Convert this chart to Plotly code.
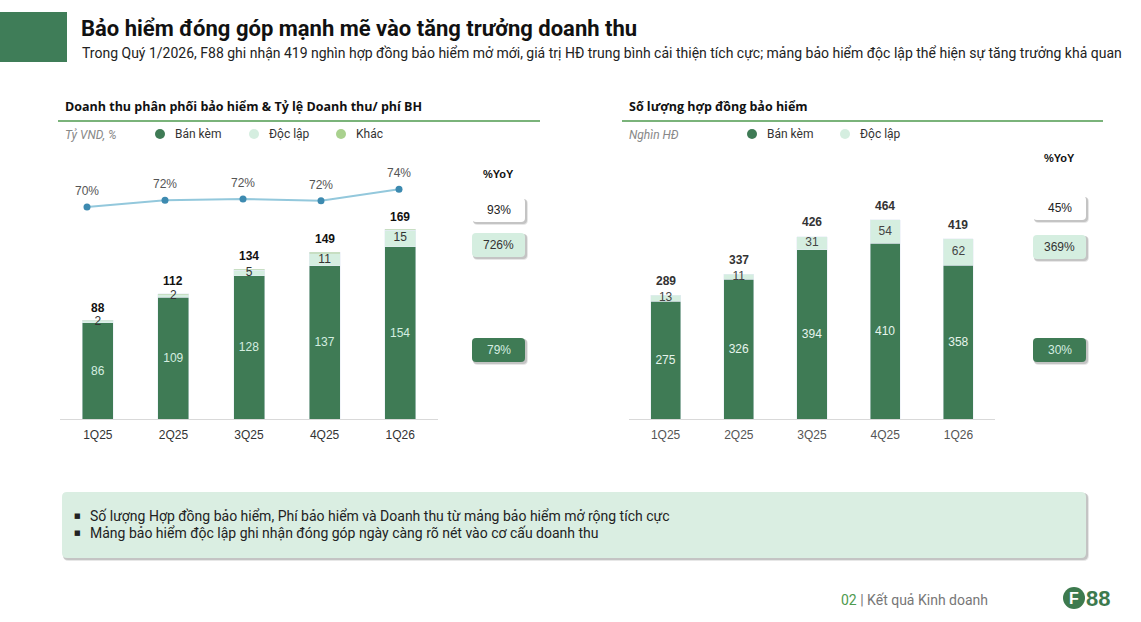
import plotly.graph_objects as go

W, H = 1141, 622
def px(x): return x / W
def py(y): return 1 - y / H

# ---------------- data ----------------
quarters = ["1Q25", "2Q25", "3Q25", "4Q25", "1Q26"]
rev_bundled = [86, 109, 128, 137, 154]
rev_standalone = [2, 2, 5, 11, 15]
rev_other = [0.4, 1, 1, 1, 0.6]
rev_total = [88, 112, 134, 149, 169]
rev_ratio = [70.2, 71.8, 72.1, 71.7, 74.4]
rev_ratio_labels = ["70%", "72%", "72%", "72%", "74%"]
rev_yoy = ["93%", "726%", "79%"]

cnt_bundled = [275, 326, 394, 410, 358]
cnt_standalone = [13, 11, 31, 54, 62]
cnt_total = [289, 337, 426, 464, 419]
cnt_yoy = ["45%", "369%", "30%"]

DARK = "#3F7B55"
LIGHT = "#D5EEE0"
OTHER = "#A9D18E"
LINE = "#93C8DC"
MARK = "#3D8AB0"
FONT = "Roboto"
HEAD = "Open Sans"
NUM = "Liberation Sans"

fig = go.Figure()

# ---------------- left chart ----------------
fig.add_trace(go.Bar(x=quarters, y=rev_bundled, marker_color=DARK, xaxis="x", yaxis="y",
                     text=[str(v) for v in rev_bundled], textposition="inside",
                     insidetextanchor="middle", textangle=0,
                     textfont=dict(color="#D5EEE0", size=12, family=NUM)))
fig.add_trace(go.Bar(x=quarters, y=rev_standalone, marker_color=LIGHT, xaxis="x", yaxis="y"))
fig.add_trace(go.Bar(x=quarters, y=rev_other, marker_color=OTHER, xaxis="x", yaxis="y"))
mid_left = [b + s / 2 for b, s in zip(rev_bundled, rev_standalone)]
fig.add_trace(go.Scatter(x=quarters, y=mid_left, mode="text", text=[str(v) for v in rev_standalone],
                         textfont=dict(color="#333333", size=12, family=NUM),
                         xaxis="x", yaxis="y", cliponaxis=False))
# ratio line
fig.add_trace(go.Scatter(x=quarters, y=rev_ratio, mode="lines+markers", xaxis="x3", yaxis="y2",
                         line=dict(color=LINE, width=2), marker=dict(color=MARK, size=7)))

# ---------------- right chart ----------------
fig.add_trace(go.Bar(x=quarters, y=cnt_bundled, marker_color=DARK, xaxis="x2", yaxis="y3",
                     text=[str(v) for v in cnt_bundled], textposition="inside",
                     insidetextanchor="middle", textangle=0,
                     textfont=dict(color="#E6F4EC", size=12, family=NUM)))
fig.add_trace(go.Bar(x=quarters, y=cnt_standalone, marker_color=LIGHT, xaxis="x2", yaxis="y3"))
mid_right = [b + s / 2 for b, s in zip(cnt_bundled, cnt_standalone)]
fig.add_trace(go.Scatter(x=quarters, y=mid_right, mode="text", text=[str(v) for v in cnt_standalone],
                         textfont=dict(color="#444444", size=12, family=NUM),
                         xaxis="x2", yaxis="y3", cliponaxis=False))

annotations = []
shapes = []

# totals
for q, t in zip(quarters, rev_total):
    annotations.append(dict(x=q, y=t, xref="x", yref="y", text=f"<b>{t}</b>", showarrow=False,
                            yanchor="bottom", yshift=4, font=dict(size=12, color="#111", family=NUM)))
for q, t in zip(quarters, cnt_total):
    annotations.append(dict(x=q, y=t, xref="x2", yref="y3", text=f"<b>{t}</b>", showarrow=False,
                            yanchor="bottom", yshift=5, font=dict(size=12, color="#333", family=NUM)))
for q, v, lab in zip(quarters, rev_ratio, rev_ratio_labels):
    annotations.append(dict(x=q, y=v, xref="x3", yref="y2", text=lab, showarrow=False,
                            yanchor="bottom", yshift=7, font=dict(size=12, color="#555", family=NUM)))

def txt(x, y, s, size=12, color="#333", xanchor="left", family=FONT, **kw):
    annotations.append(dict(x=px(x), y=py(y), xref="paper", yref="paper", text=s, showarrow=False,
                            xanchor=xanchor, yanchor="middle", font=dict(size=size, color=color, family=family), **kw))

def rrect(x0, y0, x1, y1, r, fill, opacity=1.0):
    rx, ry = r / W, r / H
    X0, X1 = px(x0), px(x1)
    Y0, Y1 = py(y1), py(y0)
    path = (f"M {X0+rx},{Y0} L {X1-rx},{Y0} Q {X1},{Y0} {X1},{Y0+ry} "
            f"L {X1},{Y1-ry} Q {X1},{Y1} {X1-rx},{Y1} L {X0+rx},{Y1} "
            f"Q {X0},{Y1} {X0},{Y1-ry} L {X0},{Y0+ry} Q {X0},{Y0} {X0+rx},{Y0} Z")
    shapes.append(dict(type="path", path=path, xref="paper", yref="paper", fillcolor=fill,
                       line=dict(width=0), opacity=opacity, layer="below"))

def shadowed(x0, y0, x1, y1, r, fill):
    rrect(x0 + 1, y0 + 1, x1 + 3, y1 + 3, r + 1, "#BBBBBB", opacity=0.35)
    rrect(x0 + 1, y0 + 1, x1 + 2, y1 + 2, r, "#999999", opacity=0.45)
    rrect(x0, y0, x1, y1, r, fill)

# ---------------- header ----------------
shapes.append(dict(type="rect", xref="paper", yref="paper", x0=px(0), x1=px(67), y0=py(62), y1=py(12),
                   fillcolor="#3F7D58", line=dict(width=0)))
txt(79, 29, "<b>Bảo hiểm đóng góp mạnh mẽ vào tăng trưởng doanh thu</b>", size=22, color="#111")
txt(80, 53, "Trong Quý 1/2026, F88 ghi nhận 419 nghìn hợp đồng bảo hiểm mở mới, giá trị HĐ trung bình cải thiện tích cực; mảng bảo hiểm độc lập thể hiện sự tăng trưởng khả quan",
    size=14, color="#222")

# ---------------- chart headers & legends ----------------
txt(63, 107, "<b>Doanh thu phân phối bảo hiểm & Tỷ lệ Doanh thu/ phí BH</b>", size=12.5, color="#111", family=HEAD)
shapes.append(dict(type="line", xref="paper", yref="paper", x0=px(58), x1=px(540), y0=py(121), y1=py(121),
                   line=dict(color="#4E9A4E", width=1.5)))
txt(63, 135, "<i>Tỷ VND, %</i>", size=12, color="#888")
for cx, col, lab in [(160, DARK, "Bán kèm"), (254, LIGHT, "Độc lập"), (341, OTHER, "Khác")]:
    shapes.append(dict(type="circle", xref="paper", yref="paper", x0=px(cx - 5), x1=px(cx + 5),
                       y0=py(139), y1=py(129), fillcolor=col, line=dict(width=0)))
    txt(cx + 13, 134, lab, size=12, color="#333")

txt(627, 107, "<b>Số lượng hợp đồng bảo hiểm</b>", size=12.5, color="#111", family=HEAD)
shapes.append(dict(type="line", xref="paper", yref="paper", x0=px(622), x1=px(1103), y0=py(121), y1=py(121),
                   line=dict(color="#4E9A4E", width=1.5)))
txt(627, 135, "<i>Nghìn HĐ</i>", size=12, color="#888")
for cx, col, lab in [(752, DARK, "Bán kèm"), (845, LIGHT, "Độc lập")]:
    shapes.append(dict(type="circle", xref="paper", yref="paper", x0=px(cx - 5), x1=px(cx + 5),
                       y0=py(139), y1=py(129), fillcolor=col, line=dict(width=0)))
    txt(cx + 13, 134, lab, size=12, color="#333")

# ---------------- YoY badges ----------------
def badges(x0, x1, head_y, ys, labels):
    cx = (x0 + x1) / 2
    txt(cx, head_y, "<b>%YoY</b>", size=11, color="#111", xanchor="center", family=NUM)
    styles = [("#FFFFFF", "#222"), (LIGHT, "#333"), (DARK, "#D5EEE0")]
    for (y0, y1), lab, (fill, tc) in zip(ys, labels, styles):
        shadowed(x0, y0, x1, y1, 4, fill)
        txt(cx, (y0 + y1) / 2, lab, size=12, color=tc, xanchor="center", family=NUM)

badges(472, 525, 174, [(198, 222), (233, 257), (338, 362)], rev_yoy)
badges(1033, 1086, 158, [(196, 220), (235, 259), (338, 362)], cnt_yoy)

# ---------------- bottom box ----------------
shadowed(62, 492, 1086, 558, 5, "#DAEEE2")
txt(72, 516, "■", size=7, color="#222", family="DejaVu Sans")
txt(88, 516, "Số lượng Hợp đồng bảo hiểm, Phí bảo hiểm và Doanh thu từ mảng bảo hiểm mở rộng tích cực", size=14, color="#222")
txt(72, 533, "■", size=7, color="#222", family="DejaVu Sans")
txt(88, 533, "Mảng bảo hiểm độc lập ghi nhận đóng góp ngày càng rõ nét vào cơ cấu doanh thu", size=14, color="#222")

# ---------------- footer ----------------
txt(839, 600, "<span style='color:#4E9A4E'>02</span> | Kết quả Kinh doanh", size=14, color="#777")
shapes.append(dict(type="circle", xref="paper", yref="paper", x0=px(1063), x1=px(1085),
                   y0=py(609), y1=py(587), fillcolor="#3D7A4E", line=dict(width=0)))
txt(1074, 598, "<b>F</b>", size=16, color="#FFFFFF", xanchor="center", family=NUM)
txt(1084, 598, "<b>88</b>", size=22, color="#3D7A4E", family=NUM)

# ---------------- layout ----------------
left_scale = 1.118
right_scale = 0.429
top_px = 150
yrange_left = [0, (419 - top_px) / left_scale]
yrange_right = [0, (419 - top_px) / right_scale]
ratio_px = 4.25
r0 = 70.2 - (419 - 207) / ratio_px
yrange_ratio = [r0, r0 + (419 - top_px) / ratio_px]

common_x = dict(type="category", showgrid=False, zeroline=False, ticks="",
                tickfont=dict(size=12, color="#333", family=NUM),
                showline=True, linecolor="#D9D9D9", linewidth=1, fixedrange=True, ticklabelstandoff=5)
hidden_y = dict(visible=False, showgrid=False, zeroline=False, fixedrange=True)

fig.update_layout(
    width=W, height=H, margin=dict(l=0, r=0, t=0, b=0), autosize=False,
    paper_bgcolor="white", plot_bgcolor="rgba(0,0,0,0)",
    barmode="stack", bargap=0.59, showlegend=False,
    font=dict(family=FONT),
    xaxis=dict(domain=[px(60), px(438)], anchor="y", **common_x),
    yaxis=dict(domain=[py(419), py(top_px)], range=yrange_left, anchor="x", **hidden_y),
    xaxis3=dict(domain=[px(48), px(438)], anchor="y2", type="category", range=[-0.5, 4.5],
                visible=False, fixedrange=True),
    yaxis2=dict(domain=[py(419), py(top_px)], range=yrange_ratio, anchor="x3", **hidden_y),
    xaxis2=dict(domain=[px(629), px(995)], anchor="y3",
                **{**common_x, "tickfont": dict(size=12, color="#555", family=NUM)}),
    yaxis3=dict(domain=[py(419), py(top_px)], range=yrange_right, anchor="x2", **hidden_y),
    annotations=annotations, shapes=shapes,
)

fig.write_html("out.html", config={"displayModeBar": False})
